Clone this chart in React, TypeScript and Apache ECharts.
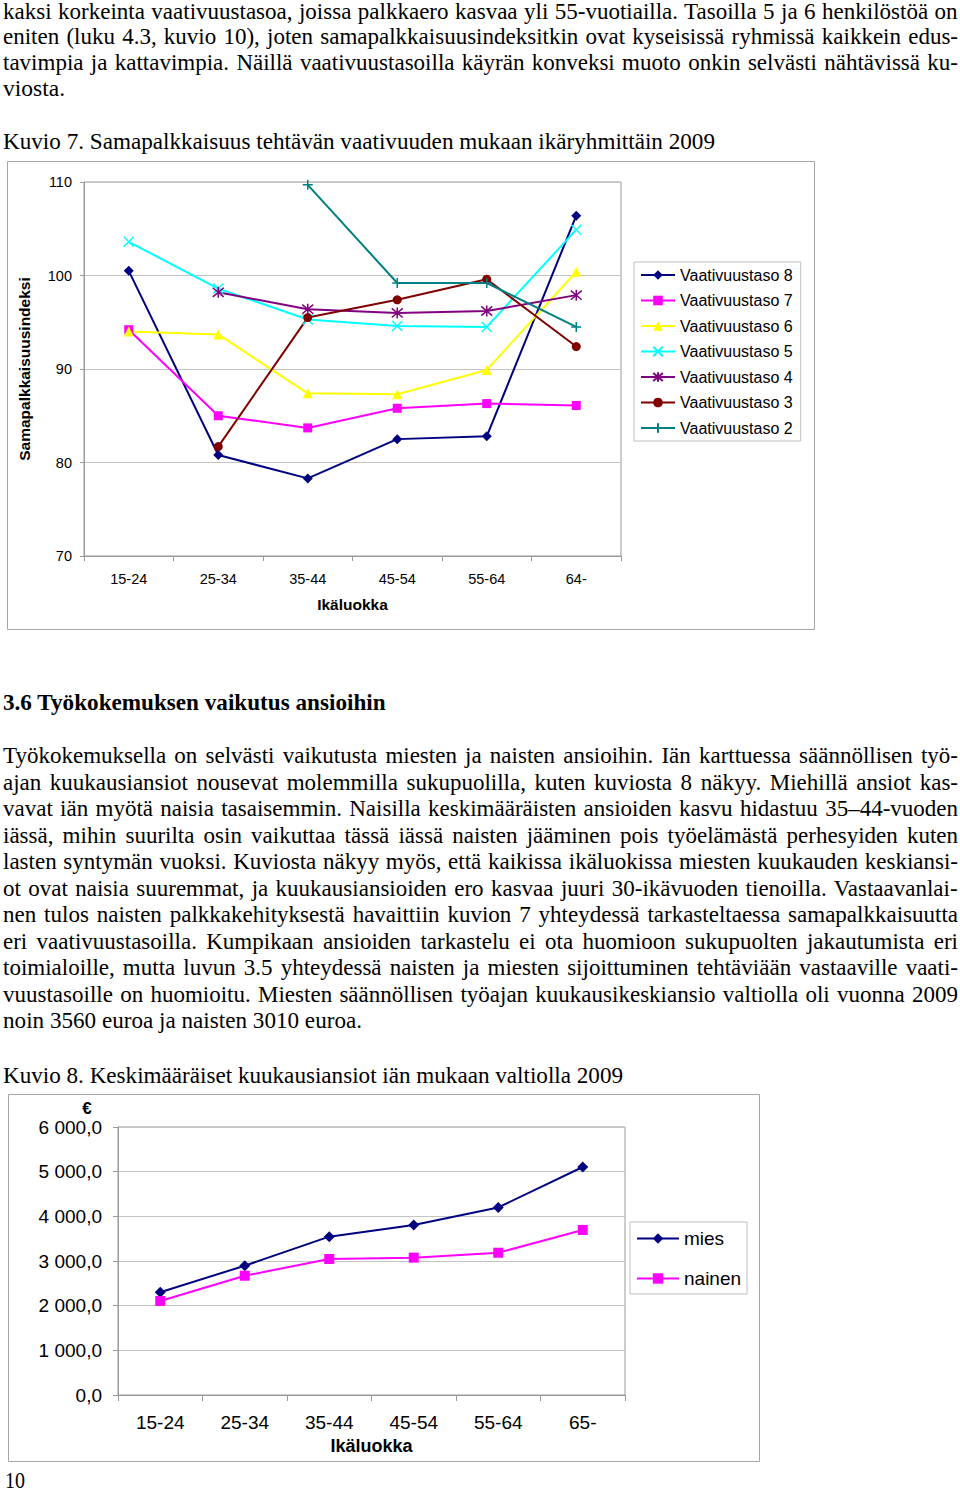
import React, { useEffect, useRef } from "react";
import * as echarts from "echarts";

// ---------- data ----------
const AGE_GROUPS_1 = ["15-24", "25-34", "35-44", "45-54", "55-64", "64-"];
const LEVEL_8 = [100.5, 80.8, 78.3, 82.5, 82.8, 106.4];
const LEVEL_7 = [94.2, 85.0, 83.7, 85.8, 86.3, 86.1];
const LEVEL_6 = [94.0, 93.7, 87.4, 87.3, 89.9, 100.4];
const LEVEL_5 = [103.6, 98.6, 95.3, 94.6, 94.5, 104.9];
const LEVEL_4 = [null, 98.2, 96.4, 96.0, 96.2, 97.9];
const LEVEL_3 = [null, 81.7, 95.5, 97.4, 99.6, 92.4];
const LEVEL_2 = [null, null, 109.7, 99.2, 99.2, 94.5];
const INDEX_MIN = 70;
const INDEX_MAX = 110;
const INDEX_STEP = 10;

const AGE_GROUPS_2 = ["15-24", "25-34", "35-44", "45-54", "55-64", "65-"];
const MIES = [2300, 2895, 3545, 3805, 4200, 5105];
const NAINEN = [2105, 2670, 3045, 3075, 3185, 3695];
const EUR_MIN = 0;
const EUR_MAX = 6000;
const EUR_STEP = 1000;

const PARA_1 = [
  "kaksi korkeinta vaativuustasoa, joissa palkkaero kasvaa yli 55-vuotiailla. Tasoilla 5 ja 6 henkilöstöä on",
  "eniten (luku 4.3, kuvio 10), joten samapalkkaisuusindeksitkin ovat kyseisissä ryhmissä kaikkein edus-",
  "tavimpia ja kattavimpia. Näillä vaativuustasoilla käyrän konveksi muoto onkin selvästi nähtävissä ku-",
];
const PARA_1_LAST = "viosta.";
const TITLE_1 = "Kuvio 7. Samapalkkaisuus tehtävän vaativuuden mukaan ikäryhmittäin 2009";
const HEADING = "3.6 Työkokemuksen vaikutus ansioihin";
const PARA_2 = [
  "Työkokemuksella on selvästi vaikutusta miesten ja naisten ansioihin. Iän karttuessa säännöllisen työ-",
  "ajan kuukausiansiot nousevat molemmilla sukupuolilla, kuten kuviosta 8 näkyy. Miehillä ansiot kas-",
  "vavat iän myötä naisia tasaisemmin. Naisilla keskimääräisten ansioiden kasvu hidastuu 35–44-vuoden",
  "iässä, mihin suurilta osin vaikuttaa tässä iässä naisten jääminen pois työelämästä perhesyiden kuten",
  "lasten syntymän vuoksi. Kuviosta näkyy myös, että kaikissa ikäluokissa miesten kuukauden keskiansi-",
  "ot ovat naisia suuremmat, ja kuukausiansioiden ero kasvaa juuri 30-ikävuoden tienoilla. Vastaavanlai-",
  "nen tulos naisten palkkakehityksestä havaittiin kuvion 7 yhteydessä tarkasteltaessa samapalkkaisuutta",
  "eri vaativuustasoilla. Kumpikaan ansioiden tarkastelu ei ota huomioon sukupuolten jakautumista eri",
  "toimialoille, mutta luvun 3.5 yhteydessä naisten ja miesten sijoittuminen tehtäviään vastaaville vaati-",
  "vuustasoille on huomioitu. Miesten säännöllisen työajan kuukausikeskiansio valtiolla oli vuonna 2009",
];
const PARA_2_LAST = "noin 3560 euroa ja naisten 3010 euroa.";
const TITLE_2 = "Kuvio 8. Keskimääräiset kuukausiansiot iän mukaan valtiolla 2009";
const PAGE_NO = "10";

// ---------- text helpers ----------
const SERIF = '"Liberation Serif", "Times New Roman", serif';
const SANS = '"Liberation Sans", Arial, Helvetica, sans-serif';
let measureCtx: CanvasRenderingContext2D | null = null;
function measure(text: string, font: string): number {
  if (!measureCtx) {
    const c = document.createElement("canvas");
    measureCtx = c.getContext("2d");
  }
  if (!measureCtx) return text.length * 10;
  measureCtx.font = font;
  return measureCtx.measureText(text).width;
}

function Line(props: {
  text: string;
  x: number;
  y: number;
  w: number;
  justify?: boolean;
  bold?: boolean;
  size?: number;
}) {
  const { text, x, y, w, justify, bold } = props;
  const size = props.size ?? 23;
  const font = `${bold ? "bold " : ""}${size}px ${SERIF}`;
  const nat = measure(text, font);
  const spaces = (text.match(/ /g) || []).length;
  let ws = 0;
  let sx = 1;
  if (justify) {
    if (nat < w && spaces > 0) ws = (w - nat) / spaces;
    else sx = w / nat;
  } else {
    sx = Math.max(0.8, Math.min(1.2, w / nat));
  }
  return (
    <div
      style={{
        position: "absolute",
        left: x,
        top: y - 12,
        height: 24,
        lineHeight: "24px",
        whiteSpace: "nowrap",
        fontFamily: SERIF,
        fontSize: size,
        fontWeight: bold ? "bold" : "normal",
        wordSpacing: ws + "px",
        transform: `scaleX(${sx})`,
        transformOrigin: "left center",
        color: "#000",
      }}
    >
      {text}
    </div>
  );
}

// ---------- chart helpers ----------
const X_PATH = "path://M0,0L10,10M10,0L0,10";
const STAR_PATH = "path://M0,0L10,10M10,0L0,10M5,-1L5,11";
const PLUS_PATH = "path://M5,0L5,10M0,5L10,5";

function lineSeries(
  name: string,
  data: (number | null)[],
  color: string,
  symbol: string,
  size: number,
  stroked = false
) {
  return {
    name,
    type: "line",
    data,
    symbol,
    symbolSize: size,
    showSymbol: true,
    connectNulls: false,
    lineStyle: { color, width: 2 },
    itemStyle: stroked
      ? { color, borderColor: color, borderWidth: 1.5 }
      : { color },
    emphasis: { disabled: true },
  };
}

function Chart1() {
  const ref = useRef<HTMLDivElement>(null);
  useEffect(() => {
    if (!ref.current) return;
    const chart = echarts.init(ref.current, null, { renderer: "svg" });
    chart.setOption({
      animation: false,
      graphic: [
        {
          type: "rect",
          silent: true,
          z: -10,
          shape: { x: 7.5, y: 11.5, width: 807, height: 468 },
          style: { fill: "#fff", stroke: "#a6a6a6", lineWidth: 1 },
        },
      ],
      grid: {
        left: 84,
        top: 32,
        width: 537,
        height: 374,
        show: true,
        borderColor: "#9a9a9a",
        borderWidth: 1,
        backgroundColor: "transparent",
      },
      legend: {
        orient: "vertical",
        left: 634,
        top: 112,
        padding: [5, 8, 5, 6],
        itemGap: 9.5,
        itemWidth: 34,
        itemHeight: 12,
        borderColor: "#c0c0c0",
        borderWidth: 1,
        textStyle: { fontFamily: SANS, fontSize: 16, color: "#000" },
        selectedMode: false,
      },
      xAxis: {
        type: "category",
        data: AGE_GROUPS_1,
        boundaryGap: true,
        axisLine: { lineStyle: { color: "#9a9a9a" } },
        axisTick: { show: true, length: 5, lineStyle: { color: "#9a9a9a" } },
        axisLabel: { fontFamily: SANS, fontSize: 14.5, color: "#000", margin: 15 },
        name: "Ikäluokka",
        nameLocation: "middle",
        nameGap: 40,
        nameTextStyle: { fontFamily: SANS, fontSize: 15.5, fontWeight: "bold", color: "#000" },
      },
      yAxis: {
        type: "value",
        min: INDEX_MIN,
        max: INDEX_MAX,
        interval: INDEX_STEP,
        axisLine: { show: true, lineStyle: { color: "#9a9a9a" } },
        axisTick: { show: true, length: 4, lineStyle: { color: "#9a9a9a" } },
        axisLabel: { fontFamily: SANS, fontSize: 14.5, color: "#000", margin: 12 },
        splitLine: { show: true, lineStyle: { color: "#c4c4c4" } },
        name: "Samapalkkaisuusindeksi",
        nameLocation: "middle",
        nameGap: 52,
        nameTextStyle: { fontFamily: SANS, fontSize: 15.5, fontWeight: "bold", color: "#000" },
      },
      series: [
        lineSeries("Vaativuustaso 8", LEVEL_8, "#000080", "diamond", 10),
        lineSeries("Vaativuustaso 7", LEVEL_7, "#ff00ff", "rect", 9),
        lineSeries("Vaativuustaso 6", LEVEL_6, "#ffff00", "triangle", 10),
        lineSeries("Vaativuustaso 5", LEVEL_5, "#00ffff", X_PATH, 10, true),
        lineSeries("Vaativuustaso 4", LEVEL_4, "#800080", STAR_PATH, 11, true),
        lineSeries("Vaativuustaso 3", LEVEL_3, "#800000", "circle", 9),
        lineSeries("Vaativuustaso 2", LEVEL_2, "#008080", PLUS_PATH, 10, true),
      ],
    });
    return () => chart.dispose();
  }, []);
  return (
    <div
      ref={ref}
      style={{ position: "absolute", left: 0, top: 150, width: 830, height: 490 }}
    />
  );
}

function formatEur(v: number): string {
  const s = Math.round(v).toString().replace(/\B(?=(\d{3})+(?!\d))/g, " ");
  return s + ",0";
}

function Chart2() {
  const ref = useRef<HTMLDivElement>(null);
  useEffect(() => {
    if (!ref.current) return;
    const chart = echarts.init(ref.current, null, { renderer: "svg" });
    chart.setOption({
      animation: false,
      graphic: [
        {
          type: "rect",
          silent: true,
          z: -10,
          shape: { x: 8.5, y: 9.5, width: 751, height: 367 },
          style: { fill: "#fff", stroke: "#a6a6a6", lineWidth: 1 },
        },
        {
          type: "text",
          silent: true,
          x: 87,
          y: 23,
          style: {
            text: "€",
            fontFamily: SANS,
            fontSize: 17,
            fontWeight: "bold",
            fill: "#000",
            align: "center",
            verticalAlign: "middle",
          },
        },
      ],
      grid: {
        left: 118,
        top: 42,
        width: 507,
        height: 268,
        show: true,
        borderColor: "#9a9a9a",
        borderWidth: 1,
        backgroundColor: "transparent",
      },
      legend: {
        orient: "vertical",
        left: 630,
        top: 137,
        padding: [7, 6, 6, 6],
        itemGap: 21,
        itemWidth: 42,
        itemHeight: 13,
        borderColor: "#c0c0c0",
        borderWidth: 1,
        textStyle: { fontFamily: SANS, fontSize: 19, color: "#000" },
        selectedMode: false,
      },
      xAxis: {
        type: "category",
        data: AGE_GROUPS_2,
        boundaryGap: true,
        axisLine: { lineStyle: { color: "#9a9a9a" } },
        axisTick: { show: true, length: 6, lineStyle: { color: "#9a9a9a" } },
        axisLabel: { fontFamily: SANS, fontSize: 19, color: "#000", margin: 18 },
        name: "Ikäluokka",
        nameLocation: "middle",
        nameGap: 41,
        nameTextStyle: { fontFamily: SANS, fontSize: 18, fontWeight: "bold", color: "#000" },
      },
      yAxis: {
        type: "value",
        min: EUR_MIN,
        max: EUR_MAX,
        interval: EUR_STEP,
        axisLine: { show: true, lineStyle: { color: "#9a9a9a" } },
        axisTick: { show: true, length: 5, lineStyle: { color: "#9a9a9a" } },
        axisLabel: {
          fontFamily: SANS,
          fontSize: 19,
          color: "#000",
          margin: 16,
          formatter: (v: number) => formatEur(v),
        },
        splitLine: { show: true, lineStyle: { color: "#c4c4c4" } },
      },
      series: [
        lineSeries("mies", MIES, "#000080", "diamond", 11),
        lineSeries("nainen", NAINEN, "#ff00ff", "rect", 10),
      ],
    });
    return () => chart.dispose();
  }, []);
  return (
    <div
      ref={ref}
      style={{ position: "absolute", left: 0, top: 1085, width: 780, height: 390 }}
    />
  );
}

const TEXT_W = 955;

export default function App() {
  const p1Tops = [12, 36.5, 62.5];
  const p2Tops = [756, 782.5, 809, 835.5, 862, 888.5, 915, 941.5, 968, 994.5];
  return (
    <div
      style={{
        position: "absolute",
        left: 0,
        top: 0,
        width: 960,
        height: 1494,
        background: "#fff",
        overflow: "hidden",
      }}
    >
      {PARA_1.map((t, i) => (
        <Line key={"p1" + i} text={t} x={3} y={p1Tops[i]} w={TEXT_W} justify />
      ))}
      <Line text={PARA_1_LAST} x={3} y={89} w={62} />
      <Line text={TITLE_1} x={3} y={142} w={712} />
      <Chart1 />
      <Line text={HEADING} x={3} y={703} w={383} bold />
      {PARA_2.map((t, i) => (
        <Line key={"p2" + i} text={t} x={3} y={p2Tops[i]} w={TEXT_W} justify />
      ))}
      <Line text={PARA_2_LAST} x={3} y={1021} w={359} />
      <Line text={TITLE_2} x={3} y={1076} w={620} />
      <Chart2 />
      <Line text={PAGE_NO} x={5} y={1481} w={20} />
    </div>
  );
}
